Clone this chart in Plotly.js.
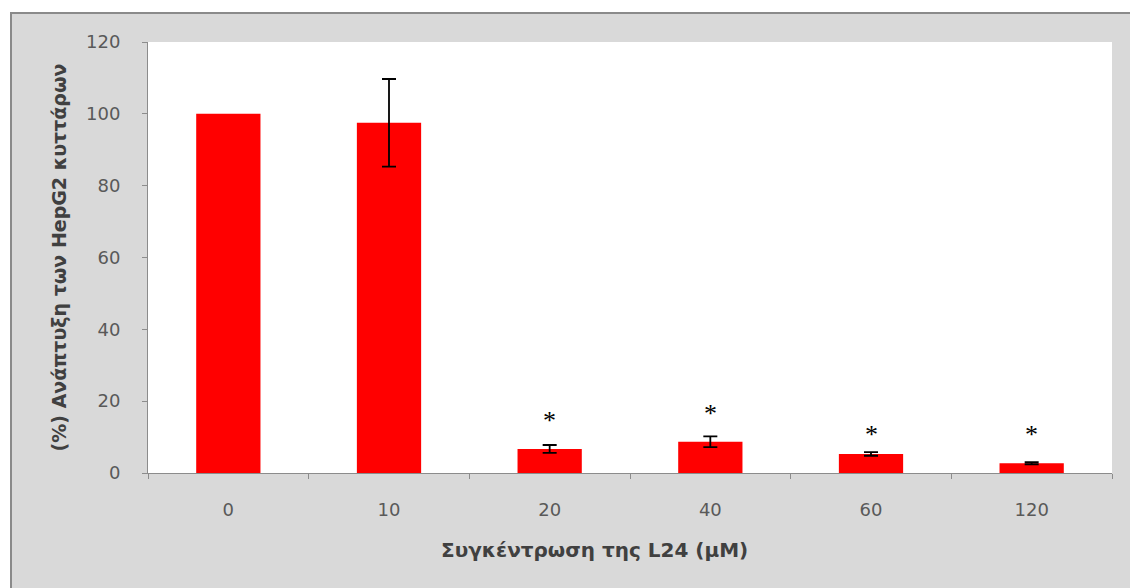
<!DOCTYPE html>
<html>
<head>
<meta charset="utf-8">
<script src="https://cdn.plot.ly/plotly-3.0.1.min.js"></script>
<style>
  html, body { margin:0; padding:0; background:#ffffff; width:1130px; height:588px; overflow:hidden; }
  #frame { position:absolute; left:10px; top:12px; width:1120px; height:576px; box-sizing:border-box;
           border-top:2px solid #8a8a8a; border-left:2px solid #8a8a8a; background:#d9d9d9; }
  #chart { width:1118px; height:574px; }
</style>
</head>
<body>
<div id="frame"><div id="chart"></div></div>
<script>
const categories = ['0', '10', '20', '40', '60', '120'];
const values = [100, 97.5, 6.7, 8.7, 5.3, 2.7];
const errors = [null, 12.2, 1.1, 1.5, 0.5, 0.3];
const starLevels = [null, null, 15.3, 17.0, 11.4, 11.4];
const yTicks = [0, 20, 40, 60, 80, 100, 120];
const xTitle = 'Συγκέντρωση της L24 (μM)';
const yTitle = '(%) Ανάπτυξη των HepG2 κυττάρων';

const barTrace = {
  type: 'bar',
  x: categories,
  y: values,
  marker: { color: '#ff0000', line: { width: 0 } },
  hoverinfo: 'skip'
};

const withErr = categories.map((c, i) => i).filter(i => errors[i] !== null);
const errTrace = {
  type: 'scatter',
  mode: 'markers',
  x: withErr.map(i => categories[i]),
  y: withErr.map(i => values[i]),
  marker: { size: 1, opacity: 0 },
  error_y: { type: 'data', array: withErr.map(i => errors[i]), visible: true, color: '#000000', thickness: 1.8, width: 7 },
  hoverinfo: 'skip'
};

const annotations = [];
categories.forEach((c, i) => {
  if (starLevels[i] !== null) {
    annotations.push({
      x: i, y: starLevels[i], xref: 'x', yref: 'y',
      text: '*', showarrow: false, yanchor: 'middle', yshift: -2,
      font: { family: 'Liberation Serif, Times New Roman, serif', size: 26, color: '#000000' }
    });
  }
});

const tickFont = { family: 'DejaVu Sans, sans-serif', size: 18, color: '#595959' };
const titleFont = { family: 'DejaVu Sans, sans-serif', size: 19, color: '#404040', weight: 'bold' };

annotations.push({
  xref: 'paper', yref: 'paper', x: 0.4627, y: 0, yshift: -77,
  xanchor: 'center', yanchor: 'middle', showarrow: false,
  text: xTitle, font: { family: 'DejaVu Sans, sans-serif', size: 20, color: '#404040', weight: 'bold' }
});

const layout = {
  width: 1118, height: 574,
  margin: { l: 136, r: 18, t: 28, b: 115 },
  paper_bgcolor: '#d9d9d9',
  plot_bgcolor: '#ffffff',
  bargap: 0.6,
  showlegend: false,
  xaxis: {
    type: 'category',
    categoryorder: 'array', categoryarray: categories,
    range: [-0.5, categories.length - 0.5],
    tickson: 'boundaries',
    ticks: 'outside', ticklen: 5, tickcolor: '#8c8c8c', tickwidth: 1,
    showline: true, linecolor: '#8c8c8c', linewidth: 1,
    showgrid: false, zeroline: false,
    tickangle: 0,
    tickfont: tickFont,
    ticklabelstandoff: 20
  },
  yaxis: {
    range: [0, 120],
    tickvals: yTicks,
    ticks: 'outside', ticklen: 5, tickcolor: '#8c8c8c', tickwidth: 1,
    showline: true, linecolor: '#8c8c8c', linewidth: 1,
    showgrid: false, zeroline: false,
    tickfont: tickFont,
    ticklabelstandoff: 18,
    title: { text: yTitle, font: titleFont, standoff: 14 }
  },
  annotations: annotations
};

Plotly.newPlot('chart', [barTrace, errTrace], layout, { displayModeBar: false, staticPlot: true });
</script>
</body>
</html>
